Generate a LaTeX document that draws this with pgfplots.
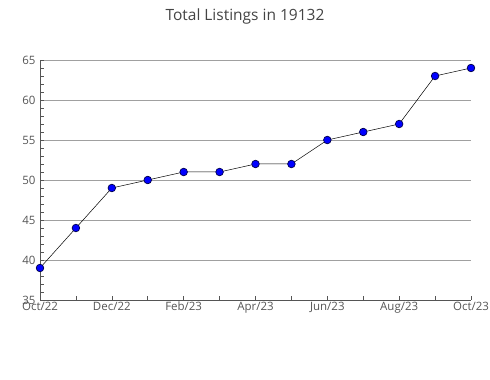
\documentclass[border=0pt]{standalone}
\usepackage{pgfplots}
\pgfplotsset{compat=1.18}
\usepackage{fontspec}
\setmainfont{Open Sans}
\definecolor{txt}{HTML}{555555}
\definecolor{ttl}{HTML}{444444}
\definecolor{gridc}{HTML}{A0A0A0}
\definecolor{axc}{HTML}{555555}
\begin{document}
\begin{tikzpicture}[x=1pt,y=1pt]
\path[use as bounding box] (0,0) rectangle (490,380);
\node[text=ttl,font=\fontsize{15.5}{18}\selectfont] at (245,364) {Total Listings in 19132};
\begin{axis}[
  at={(40pt,80pt)}, anchor=south west,
  scale only axis, width=431pt, height=240pt,
  xmin=0, xmax=12, ymin=35, ymax=65,
  axis x line*=bottom, axis y line*=left,
  axis line style={axc, line width=0.8pt},
  xtick={0,2,...,12}, minor xtick={1,3,...,11},
  xticklabels={Oct/22,Dec/22,Feb/23,Apr/23,Jun/23,Aug/23,Oct/23},
  ytick={35,40,...,65}, minor ytick={36,37,38,39,41,42,43,44,46,47,48,49,51,52,53,54,56,57,58,59,61,62,63,64},
  tick align=inside,
  major tick length=4pt, minor tick length=4pt,
  tick style={axc, line width=0.6pt},
  ymajorgrids, major grid style={gridc, line width=0.6pt},
  ticklabel style={text=txt, font=\fontsize{11.5}{13}\selectfont},
  /pgf/number format/assume math mode=true,
  xticklabel style={text height=8.5pt, text depth=2.5pt, yshift=2pt},
  yticklabel style={xshift=-1pt},
  clip=false,
]
\addplot[black, line width=0.5pt, mark=*, mark size=3.8pt, mark options={fill=blue, draw=black!70!blue, line width=0.7pt}]
 coordinates {(0,39) (1,44) (2,49) (3,50) (4,51) (5,51) (6,52) (7,52) (8,55) (9,56) (10,57) (11,63) (12,64)};
\end{axis}
\end{tikzpicture}
\end{document}
